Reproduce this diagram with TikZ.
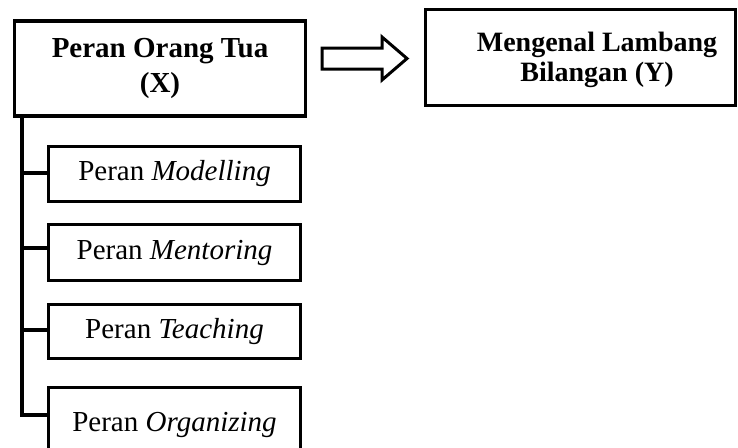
\documentclass[tikz,border=0pt]{standalone}
\usepackage{fontspec}
\setmainfont{Liberation Serif}
\begin{document}
\begin{tikzpicture}[x=1pt,y=-1pt,
  mainbox/.style={draw,line width=3.6pt,inner sep=0pt,align=center,
    font=\bfseries\fontsize{29}{35}\selectfont},
  subbox/.style={draw,line width=3.6pt,inner sep=0pt,minimum width=252pt,
    font=\fontsize{29}{35}\selectfont},
  wire/.style={line width=3.4pt},
  blockarrow/.style={line width=3pt,line join=miter}]
\useasboundingbox (0,0) rectangle (738,447);
\clip (0,0) rectangle (738,447);
% main boxes
\node[mainbox,minimum width=291pt,minimum height=95pt] (x) at (160,68.5)
  {Peran Orang Tua\\(X)};
\node[draw,line width=3.6pt,minimum width=310pt,minimum height=96pt,inner sep=0pt] (y) at (580.5,57.5) {};
\node[font=\bfseries\fontsize{28}{30}\selectfont,align=center,inner sep=0pt] (ytext) at (597,60)
  {Mengenal Lambang\\Bilangan (Y)};
% block arrow
\draw[blockarrow] (322,48) -- (382,48) -- (382,37) -- (407,58.5) -- (382,80) -- (382,69) -- (322,69) -- cycle;
% sub boxes
\node[subbox,minimum height=55pt] (b1) at (174.5,174) {Peran \textit{Modelling}};
\node[subbox,minimum height=56pt] (b2) at (174.5,252.5) {Peran \textit{Mentoring}};
\node[subbox,minimum height=54pt] (b3) at (174.5,331.5) {Peran \textit{Teaching}};
\node[subbox,minimum height=75pt] (b4) at (174.5,425) {Peran \textit{Organizing}};
% spine
\coordinate (s0) at (22,0);
\coordinate (s1) at (22,173);
\coordinate (s2) at (22,248);
\coordinate (s3) at (22,330);
\coordinate (s4) at (22,415);
\draw[wire,line join=miter] (s0 |- x.south) -- (s4) -- (s4 -| b4.west);
\draw[wire] (s1) -- (s1 -| b1.west);
\draw[wire] (s2) -- (s2 -| b2.west);
\draw[wire] (s3) -- (s3 -| b3.west);
\end{tikzpicture}
\end{document}
